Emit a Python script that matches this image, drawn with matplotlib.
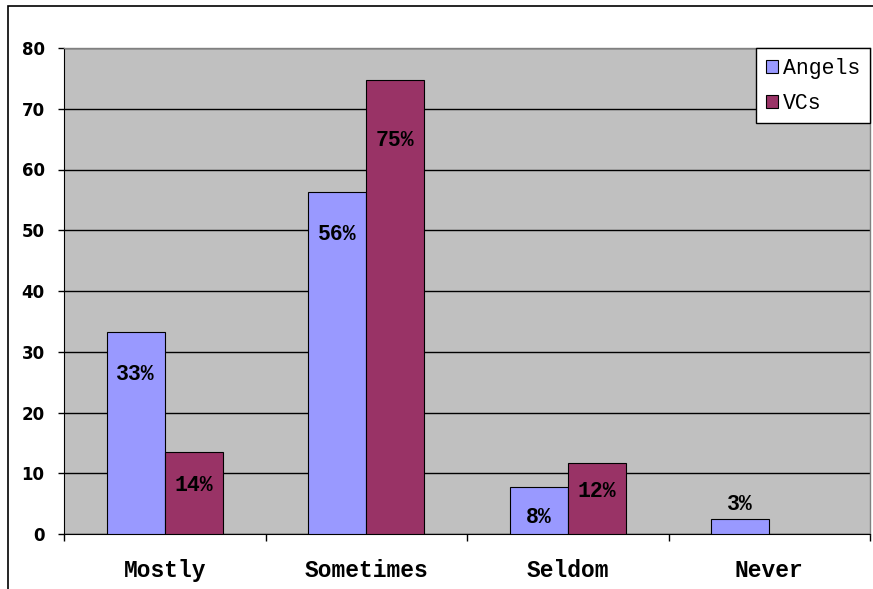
import matplotlib
matplotlib.use("Agg")
import matplotlib.pyplot as plt
from matplotlib.patches import Rectangle
import numpy as np

categories = ["Mostly", "Sometimes", "Seldom", "Never"]
angels = [33.3, 56.3, 7.7, 2.5]
vcs = [13.5, 74.7, 11.7, 0]
angels_labels = ["33%", "56%", "8%", "3%"]
vcs_labels = ["14%", "75%", "12%", ""]
yticks = [0, 10, 20, 30, 40, 50, 60, 70, 80]

fig = plt.figure(figsize=(8.73, 5.89), dpi=100)
fig.patches.append(Rectangle((8/873, -0.01), 1.0, (589-6)/589 + 0.01, transform=fig.transFigure,
                             fill=False, edgecolor="black", linewidth=1.2))
ax = fig.add_axes([64/873, 55/589, 806/873, 486/589])
ax.set_facecolor("#C0C0C0")

x = np.arange(len(categories))
w = 0.288
ax.bar(x - w/2, angels, w, color="#9999FF", edgecolor="black", linewidth=0.8, label="Angels", zorder=3)
vals_v = [v if v > 0 else np.nan for v in vcs]
ax.bar(x + w/2, vals_v, w, color="#993366", edgecolor="black", linewidth=0.8, label="VCs", zorder=3)

ax.set_ylim(0, 80)
ax.set_xlim(-0.5, len(categories) - 0.5)
ax.set_yticks(yticks)
ax.set_yticklabels([str(t) for t in yticks], fontsize=12, fontweight="bold", family="DejaVu Sans")
ax.yaxis.grid(True, color="black", linewidth=1.0, zorder=1)
ax.set_axisbelow(True)

ax.set_xticks(x)
ax.set_xticklabels(categories, fontsize=16.5, fontweight="bold", family="Liberation Mono")
ax.tick_params(axis="x", length=0, pad=18)
ax.set_xticks(np.arange(len(categories) + 1) - 0.5, minor=True)
ax.tick_params(axis="x", which="minor", length=5, width=1, color="black")
ax.tick_params(axis="y", length=4, width=1, pad=10)

for s in ["top", "right"]:
    ax.spines[s].set_color("#808080")
    ax.spines[s].set_linewidth(1)
ax.spines["left"].set_color("black")
ax.spines["bottom"].set_color("black")

a_off = [-43, -43, -30, 14]
v_off = [-34, -60, -29, 0]
for i in range(len(categories)):
    if angels_labels[i]:
        ax.annotate(angels_labels[i], (x[i] - w/2, angels[i]), xytext=(0, a_off[i]),
                    textcoords="offset pixels", ha="center", va="center",
                    fontsize=15.5, fontweight="bold", family="Liberation Mono", zorder=5)
    if vcs_labels[i]:
        ax.annotate(vcs_labels[i], (x[i] + w/2, vcs[i]), xytext=(0, v_off[i]),
                    textcoords="offset pixels", ha="center", va="center",
                    fontsize=15.5, fontweight="bold", family="Liberation Mono", zorder=5)

leg = ax.legend(loc="upper right", bbox_to_anchor=(1.0, 1.0), frameon=True, fancybox=False,
                framealpha=1, facecolor="white",
                prop={"family": "Liberation Mono", "size": 15.5}, handlelength=0.55, handleheight=0.55,
                handletextpad=0.25, borderaxespad=0, labelspacing=0.65, borderpad=0.45)
leg.get_frame().set_edgecolor("black")
leg.get_frame().set_linewidth(1)
for h in leg.legend_handles:
    h.set_edgecolor("black")
    h.set_linewidth(0.8)

fig.savefig("out.png", dpi=100)
